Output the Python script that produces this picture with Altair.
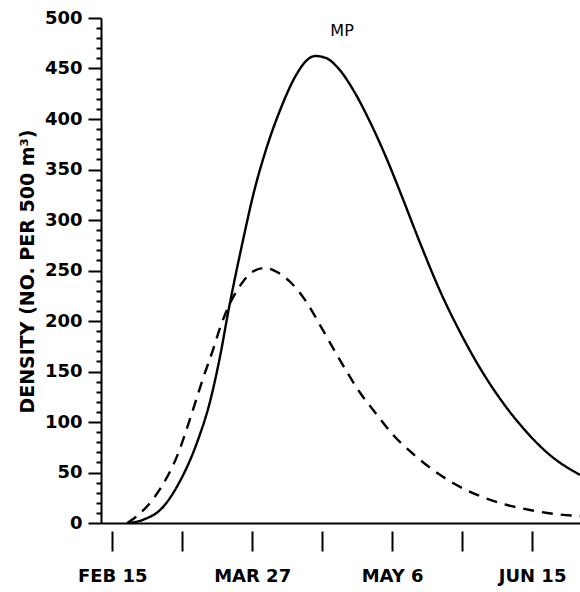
import altair as alt
import pandas as pd

# ---- data (day 0 = FEB 15) ----
solid_day = [5.1, 9.4, 13.7, 19.4, 24.3, 28.0, 30.9, 33.1, 37.4, 40.3, 44.3, 48.0, 52.9, 55.4,
             58.0, 61.1, 64.3, 68.9, 73.7, 78.6, 82.3, 88.0, 93.7, 99.4, 105.1, 110.9, 117.4,
             125.1, 133.7]
solid_density = [0, 4, 12.9, 41.6, 80.2, 120.8, 166.3, 207.9, 280.2, 324.8, 373.3, 408.9, 445.5,
                 457.4, 462.4, 460.4, 451.5, 428.7, 397.0, 359.4, 327.7, 277.2, 229.7, 189.1,
                 153.5, 122.8, 94.1, 67.3, 47.5]

dashed_day = [4.3, 7.1, 11.7, 15.7, 18.9, 21.4, 23.7, 26.0, 28.6, 30.9, 34.0, 37.1, 40.0, 43.7,
              47.1, 50.9, 55.7, 59.4, 63.1, 67.1, 70.9, 75.7, 80.3, 85.7, 91.7, 97.4, 105.1,
              112.9, 119.4, 126.6, 133.7]
dashed_density = [0, 6.9, 23.8, 45.5, 69.3, 94.1, 118.8, 143.6, 169.3, 194.1, 219.8, 237.6,
                  248.5, 252.5, 248.5, 238.6, 217.8, 196.0, 173.3, 149.5, 128.7, 106.9, 87.1,
                  69.3, 52.5, 39.6, 26.7, 17.8, 12.9, 8.9, 6.9]

series_names = ["MP", "other"]

x_tick_days = [0, 20, 40, 60, 80, 100, 120]
x_label_days = [0, 40, 80, 120]
x_label_text = ["FEB 15", "MAR 27", "MAY 6", "JUN 15"]

y_tick_values = list(range(0, 501, 10))

annot_text = ["MP"]
annot_day = [65.7]
annot_density = [487]

# ---- build tables ----
df = pd.concat([
    pd.DataFrame({"day": solid_day, "density": solid_density, "series": series_names[0]}),
    pd.DataFrame({"day": dashed_day, "density": dashed_density, "series": series_names[1]}),
])
ann = pd.DataFrame({"day": annot_day, "density": annot_density, "text": annot_text})

label_map = "{" + ",".join(f"'{d}':'{t}'" for d, t in zip(x_label_days, x_label_text)) + "}"
x_label_expr = f"({label_map})[datum.value] || ''"

FONT = "DejaVu Sans"

x_scale = alt.Scale(domain=[-3.2, 133.7], nice=False, zero=False)
y_scale = alt.Scale(domain=[0, 500], nice=False)

x_axis = alt.Axis(
    values=x_tick_days, labelExpr=x_label_expr, title=None, grid=False,
    domainColor="black", domainWidth=2,
    tickColor="black", tickWidth=2, tickSize=28, tickDash=[0, 8, 20, 10],
    labelFont=FONT, labelFontWeight="bold", labelFontSize=18, labelColor="black",
    labelPadding=16, labelOverlap=False, labelFlush=False, labelBound=False,
)
y_axis = alt.Axis(
    values=y_tick_values,
    labelExpr="datum.value % 50 === 0 ? datum.label : ''",
    title="DENSITY (NO. PER 500 m³)", grid=False,
    domainColor="black", domainWidth=2,
    tickColor="black", tickWidth=2,
    tickSize={"condition": {"test": "datum.value % 50 === 0", "value": 13}, "value": 5},
    labelFont=FONT, labelFontWeight="bold", labelFontSize=18, labelColor="black",
    labelPadding=6, labelOverlap=False, labelFlush=False, labelBound=False,
    titleFont=FONT, titleFontWeight="bold", titleFontSize=19, titleColor="black",
    titleAngle=270, titleAlign="center", titleBaseline="middle", titleX=-74, titleY=253,
)

lines = alt.Chart(df).mark_line(color="black", strokeWidth=2.4, interpolate="monotone").encode(
    x=alt.X("day:Q", scale=x_scale, axis=x_axis),
    y=alt.Y("density:Q", scale=y_scale, axis=y_axis),
    strokeDash=alt.StrokeDash("series:N", scale=alt.Scale(domain=series_names, range=[[1, 0], [11, 8]]), legend=None),
    detail="series:N",
)

text = alt.Chart(ann).mark_text(font=FONT, fontSize=16, color="black", baseline="middle", align="center").encode(
    x=alt.X("day:Q", scale=x_scale, axis=x_axis),
    y=alt.Y("density:Q", scale=y_scale, axis=y_axis),
    text="text:N",
)

chart = alt.layer(lines, text).properties(
    width=479, height=505,
    autosize=alt.AutoSizeParams(type="none"),
    padding={"left": 101, "top": 18, "right": 0, "bottom": 69},
    background="white",
).configure_view(stroke=None)

chart.save("out.html", embed_options={"renderer": "svg", "actions": False})
